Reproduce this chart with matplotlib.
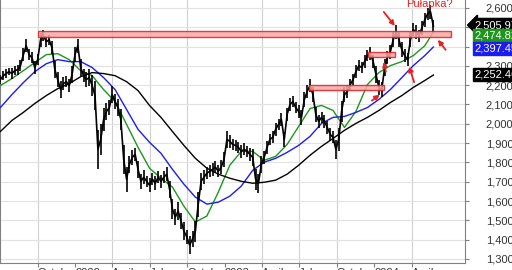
import matplotlib
matplotlib.use('Agg')
import matplotlib.pyplot as plt
import matplotlib.dates as mdates
from matplotlib.patches import Rectangle
from matplotlib.ticker import FuncFormatter
import pandas as pd

plt.rcParams['font.family'] = ['Liberation Sans', 'DejaVu Sans']

# weekly closes, Jul 2021 - May 2024
close = [2229, 2249, 2260, 2270, 2260, 2275, 2280, 2301, 2358, 2404,
         2358, 2342, 2291, 2332, 2435, 2456, 2425, 2435, 2394, 2280,
         2229, 2177, 2208, 2218, 2198, 2255, 2358, 2404, 2291, 2249,
         2229, 2239, 2198, 2146, 1868, 1919, 2022, 2064, 2084, 2151,
         2115, 2084, 2022, 1816, 1713, 1790, 1826, 1842, 1764, 1702,
         1723, 1702, 1682, 1713, 1692, 1723, 1702, 1723, 1739, 1661,
         1558, 1517, 1548, 1496, 1444, 1414, 1372, 1403, 1444, 1584,
         1702, 1723, 1744, 1754, 1764, 1775, 1754, 1775, 1816, 1919,
         1909, 1893, 1888, 1878, 1857, 1868, 1857, 1842, 1826, 1713,
         1692, 1790, 1826, 1878, 1919, 1930, 1971, 1997, 2022, 1919,
         2048, 2100, 2115, 2084, 2064, 2033, 2126, 2167, 2198, 2151,
         2048, 2012, 2033, 2012, 1981, 1945, 1930, 1868, 1919, 2064,
         2151, 2167, 2203, 2229, 2270, 2301, 2291, 2322, 2353, 2363,
         2322, 2255, 2188, 2177, 2291, 2342, 2373, 2435, 2476, 2435,
         2384, 2353, 2332, 2435, 2487, 2476, 2456, 2497, 2538, 2569,
         2580, 2505.97]

# rough weekly high-low range
wk_range = [50, 45, 50, 40, 55, 45, 50, 60, 70, 65,
            60, 55, 70, 60, 70, 55, 60, 50, 70, 90,
            80, 90, 70, 60, 70, 90, 80, 70, 90, 70,
            80, 90, 110, 150, 200, 160, 120, 90, 80, 90,
            80, 90, 110, 150, 130, 90, 80, 70, 90, 80,
            70, 60, 70, 60, 70, 60, 70, 60, 70, 90,
            100, 80, 90, 80, 90, 70, 90, 80, 110, 130,
            90, 70, 60, 60, 70, 60, 60, 70, 80, 90,
            70, 60, 60, 60, 70, 60, 60, 70, 90, 110,
            100, 90, 70, 70, 60, 60, 70, 60, 70, 80,
            70, 70, 60, 60, 70, 80, 80, 70, 70, 80,
            80, 70, 60, 70, 70, 70, 60, 100, 120, 110,
            80, 70, 60, 60, 70, 60, 60, 70, 60, 70,
            70, 90, 80, 80, 90, 70, 70, 80, 70, 80,
            80, 70, 70, 80, 70, 70, 60, 70, 70, 60,
            70, 60]

# moving averages, sampled every 4 weeks + last week
ma_fast = [2198, 2234, 2275, 2317, 2358, 2363, 2332, 2275, 2249, 2177,
           2115, 1997, 1878, 1770, 1718, 1672, 1573, 1491, 1522, 1646,
           1785, 1857, 1857, 1811, 1831, 1893, 1986, 2079, 2095, 2069,
           1981, 2064, 2203, 2265, 2301, 2322, 2353, 2404, 2474.82]
ma_mid = [2084, 2151, 2213, 2270, 2311, 2332, 2322, 2322, 2291, 2239,
          2177, 2074, 1971, 1904, 1847, 1764, 1687, 1620, 1584, 1594,
          1625, 1677, 1759, 1801, 1821, 1852, 1888, 1935, 2002, 2033,
          2038, 2059, 2084, 2126, 2177, 2239, 2301, 2353, 2397.45]
ma_slow = [1960, 2017, 2059, 2105, 2146, 2182, 2208, 2244, 2265, 2260,
           2249, 2218, 2172, 2095, 2033, 1960, 1888, 1821, 1770, 1739,
           1718, 1702, 1692, 1697, 1708, 1739, 1785, 1837, 1883, 1924,
           1966, 2002, 2033, 2069, 2110, 2146, 2188, 2224, 2252.46]

# support / resistance zones: start, end, low, high
zones = [('2021-10-01', '2024-07-05', 2447, 2483),
         ('2023-07-25', '2024-01-24', 2173, 2201),
         ('2023-12-16', '2024-02-20', 2347, 2372)]

dates = pd.date_range('2021-07-02', periods=len(close), freq='W-FRI')
ma_idx = list(range(0, len(close) - 3, 4)) + [len(close) - 1]
ma_dates = dates[ma_idx]

fig = plt.figure(figsize=(5.12, 2.7), dpi=100)
ax = fig.add_axes([0.0, 0.026, 0.908, 0.974])

GREEN = '#1e961e'
BLUE = '#1c1cf0'

lows = [c - r * 0.5 for c, r in zip(close, wk_range)]
highs = [c + r * 0.5 for c, r in zip(close, wk_range)]
ax.vlines(dates, lows, highs, color='black', lw=1.2, zorder=4)
ax.plot(dates, close, color='black', lw=1.2, zorder=4)
ax.plot(ma_dates, ma_fast, color=GREEN, lw=1.0, zorder=3)
ax.plot(ma_dates, ma_mid, color=BLUE, lw=1.0, zorder=3)
ax.plot(ma_dates, ma_slow, color='black', lw=1.0, zorder=3)

for s, e, lo, hi in zones:
    x0 = mdates.date2num(pd.Timestamp(s))
    x1 = mdates.date2num(pd.Timestamp(e))
    ax.add_patch(Rectangle((x0, lo), x1 - x0, hi - lo, facecolor='#f7a8a8',
                           edgecolor='#e02020', lw=1.0, alpha=0.85, zorder=5,
                           clip_on=False))

# red arrows
arrows = [(('2024-01-24', 2579), ('2024-02-20', 2507)),
          (('2024-06-23', 2383), ('2024-06-04', 2435)),
          (('2024-04-07', 2215), ('2024-03-26', 2296)),
          (('2024-01-29', 2270), ('2024-01-24', 2321)),
          (('2023-12-26', 2120), ('2024-01-14', 2151))]
for (d0, v0), (d1, v1) in arrows:
    ax.annotate('', xy=(pd.Timestamp(d1), v1), xytext=(pd.Timestamp(d0), v0),
                arrowprops=dict(arrowstyle='-|>', color='#e82020', lw=1.3,
                                mutation_scale=7, shrinkA=0, shrinkB=0),
                zorder=7)
ax.text(pd.Timestamp('2024-05-15'), 2622, 'Pułapka?', color='#e82020',
        fontsize=8, ha='center', va='center', zorder=7)

ax.set_ylim(1279, 2641)
ax.set_xlim(pd.Timestamp('2021-07-01'), pd.Timestamp('2024-08-09'))

# axes styling
ax.spines['top'].set_visible(False)
for side in ['left', 'right', 'bottom']:
    ax.spines[side].set_color('#808080')
ax.yaxis.tick_right()
ax.set_yticks(range(1300, 2601, 100))
ax.yaxis.set_major_formatter(FuncFormatter(lambda v, p: f'{int(v):,}'))
ax.tick_params(axis='y', length=3, pad=12, labelsize=8, colors='#808080',
               labelcolor='#333333')
ax.grid(axis='y', color='#e2e2e2', lw=0.8)

quarters = pd.date_range('2021-10-01', '2024-04-01', freq='QS')
qlabels = [str(d.year) if d.month == 1 else d.strftime('%B') for d in quarters]
ax.set_xticks(quarters)
ax.set_xticklabels(qlabels, ha='left')
ax.tick_params(axis='x', length=3, pad=0.5, labelsize=8, colors='#808080',
               labelcolor='#333333')
for d in quarters:
    if d.month != 1:
        ax.axvline(d, color='#d0d0d0', lw=0.8, zorder=0)

# last value boxes on the right
boxes = [(2511, '2,505.97', 'black', 'larrow,pad=0.15'),
         (2457, '2,474.82', GREEN, 'square,pad=0.15'),
         (2389, '2,397.45', BLUE, 'square,pad=0.15'),
         (2256, '2,252.46', 'black', 'square,pad=0.15')]
for v, txt, col, style in boxes:
    ax.annotate(txt, xy=(1.0, v), xycoords=('axes fraction', 'data'),
                xytext=(7, 0), textcoords='offset points', va='center',
                ha='left', color='white', fontsize=8, zorder=10,
                annotation_clip=False,
                bbox=dict(boxstyle=style, fc=col, ec=col))

plt.savefig('out.png', dpi=100)
